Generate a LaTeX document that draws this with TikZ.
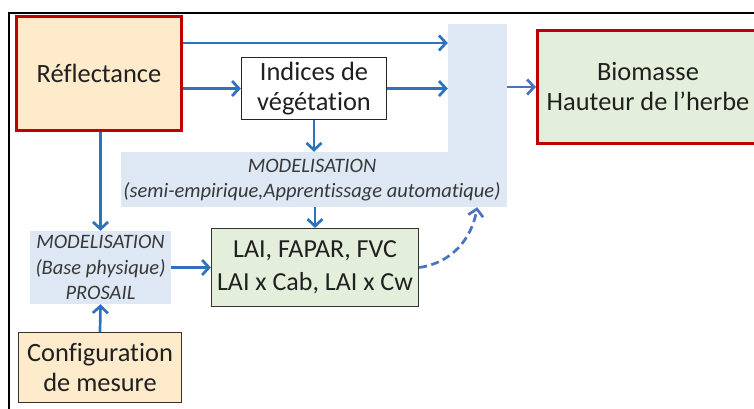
\documentclass[tikz,border=0pt]{standalone}
\usepackage{fontspec}
\setmainfont{Carlito}[Ligatures=NoCommon]
\usetikzlibrary{arrows.meta}
\definecolor{arrblue}{HTML}{2E72BE}
\definecolor{arrblue2}{HTML}{4A72C0}
\definecolor{lblue}{HTML}{DDE8F4}
\definecolor{cream}{HTML}{FDEBCB}
\definecolor{lgreen}{HTML}{E3EFDA}
\definecolor{dred}{HTML}{C00000}
\definecolor{txt}{HTML}{202020}
\tikzset{
  arr/.style={draw=arrblue, line width=2.7pt, -{Straight Barb[length=7pt,width=15pt,line width=2.7pt]}},
  arrb/.style={arr, draw=arrblue2},
  boxbase/.style={inner sep=0pt, align=center, text=txt},
  bigtxt/.style={font=\fontsize{26.4}{30}\selectfont},
  ittxt/.style={font=\fontsize{20.5}{25.5}\selectfont\itshape, text=black!78},
}
\begin{document}
\begin{tikzpicture}[x=1pt,y=-1pt]
\useasboundingbox (0,0) rectangle (754,408);
\clip (0,0) rectangle (754,408);
% frame
\draw[line width=1.6pt] (9,420) -- (9,13) -- (770,13);
% light blue L region
\node[boxbase, fill=lblue, minimum width=59pt, minimum height=183pt] (mlv) at (477.5,115.5) {};
\node[boxbase, fill=lblue, minimum width=386pt, minimum height=55pt] (ml) at (314,179.5) {};
\node[boxbase, ittxt] (mltxt) at (312,180) {MODELISATION\\(semi-empirique,Apprentissage automatique)};
% boxes
\node[boxbase, bigtxt, draw=dred, line width=3pt, fill=cream, minimum width=165pt, minimum height=114pt] (refl) at (99,73.5) {Réflectance};
\node[boxbase, bigtxt, draw=black!85, line width=1.2pt, fill=white, minimum width=145pt, minimum height=62pt] (ind) at (314,88.5) {Indices de\\végétation};
\node[boxbase, bigtxt, draw=dred, line width=3pt, fill=lgreen, minimum width=221pt, minimum height=113pt] (bio) at (648,87) {Biomasse\\Hauteur de l’herbe};
\node[boxbase, font=\fontsize{26}{33}\selectfont, draw=black!80, line width=1.2pt, fill=lgreen, minimum width=207pt, minimum height=78pt] (lai) at (315,267.5) {LAI, FAPAR, FVC\\LAI x Cab, LAI x Cw};
\node[boxbase, ittxt, fill=lblue, minimum width=141pt, minimum height=73pt] (pros) at (100.5,267.5) {MODELISATION\\(Base physique)\\PROSAIL};
\node[boxbase, bigtxt, draw=black!80, line width=1.2pt, fill=cream, minimum width=163pt, minimum height=70pt] (conf) at (100,367.5) {Configuration\\de mesure};
% connectors
\draw[arr] ([yshift=30.5pt]refl.east) -- ([yshift=30.5pt]refl.east -| mlv.west);
\draw[arr] (refl.east |- ind.west) -- (ind.west);
\draw[arr] (ind.east) -- (ind.east -| mlv.west);
\draw[arr] (ind.south) -- (ind.south |- ml.north);
\draw[arr] (lai.north |- ml.south) -- (lai.north);
\draw[arrb] (mlv.east |- bio.west) -- (bio.west);
\draw[arr] (refl.south -| pros.north) -- (pros.north);
\draw[arr] (pros.east) -- (lai.west);
\draw[arr] (conf.north) -- (pros.south);
\draw[arrb, dashed, dash pattern=on 8pt off 4.5pt] (lai.east) to[out=8,in=-100] ([xshift=-30pt]ml.south east);
\end{tikzpicture}
\end{document}
